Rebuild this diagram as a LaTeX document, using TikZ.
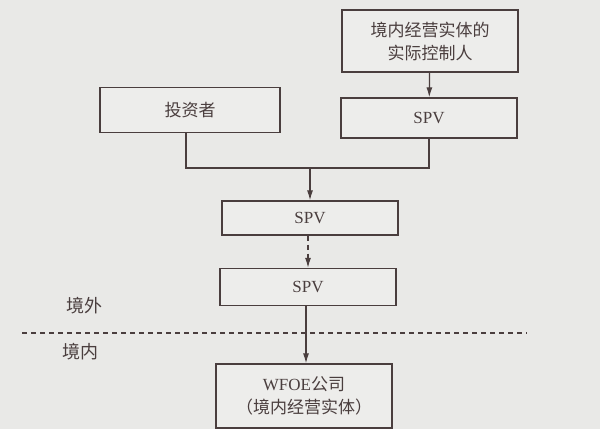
\documentclass[tikz,border=0pt]{standalone}
\usepackage{fontspec}
\setmainfont{Liberation Serif}
\newfontfamily\cjk{Noto Sans CJK SC}
\usetikzlibrary{arrows.meta}
\definecolor{ink}{HTML}{4A3E3E}
\definecolor{paper}{HTML}{E9E9E7}
\definecolor{boxfill}{HTML}{EDEDEB}
\tikzset{
  box/.style={draw=ink, line width=1.3pt, fill=boxfill, text=ink, align=center,
    minimum width=176pt, inner sep=0pt, font=\fontsize{17}{23}\selectfont},
  conn/.style={draw=ink, line width=1.2pt},
  arr/.style={conn, -{Latex[length=10pt,width=6pt]}},
  lbl/.style={text=ink, font=\cjk\fontsize{18}{20}\selectfont}
}
\begin{document}
\begin{tikzpicture}[x=1pt,y=-1pt]
\useasboundingbox[fill=paper] (0,0) rectangle (600,429);
\node[box, minimum height=62pt] (ctrl) at (430,41) {\cjk 境内经营实体的\\\cjk 实际控制人};
\node[box, minimum height=40pt] (spvR) at (429,118) {SPV};
\node[box, minimum width=180pt, minimum height=45pt] (inv) at (190,110) {\cjk 投资者};
\node[box, minimum height=34pt] (spvM) at (310,218) {SPV};
\node[box, minimum height=37pt] (spvL) at (308,287) {SPV};
\node[box, minimum height=64pt] (wfoe) at (304,396) {WFOE{\cjk 公司}\\{\cjk （境内经营实体）}};
\coordinate (j) at (310,168);
\draw[arr] (ctrl) -- (spvR);
\draw[conn] (inv.south -| 186,0) |- (j);
\draw[conn] (spvR.south) |- (j);
\draw[arr] (j) -- (spvM.north);
\draw[arr, dashed, dash pattern=on 5pt off 4pt] (spvM.south -| 308,0) -- (spvL.north);
\draw[arr] (spvL.south -| 306,0) -- (wfoe.north -| 306,0);
\coordinate (dl) at (22,333);
\coordinate (dr) at (527,333);
\draw[ink, line width=1.5pt, dash pattern=on 5pt off 4pt] (dl) -- (dr);
\node[lbl] (out) at (84,306) {境外};
\node[lbl] (in) at (80,352) {境内};
\end{tikzpicture}
\end{document}
